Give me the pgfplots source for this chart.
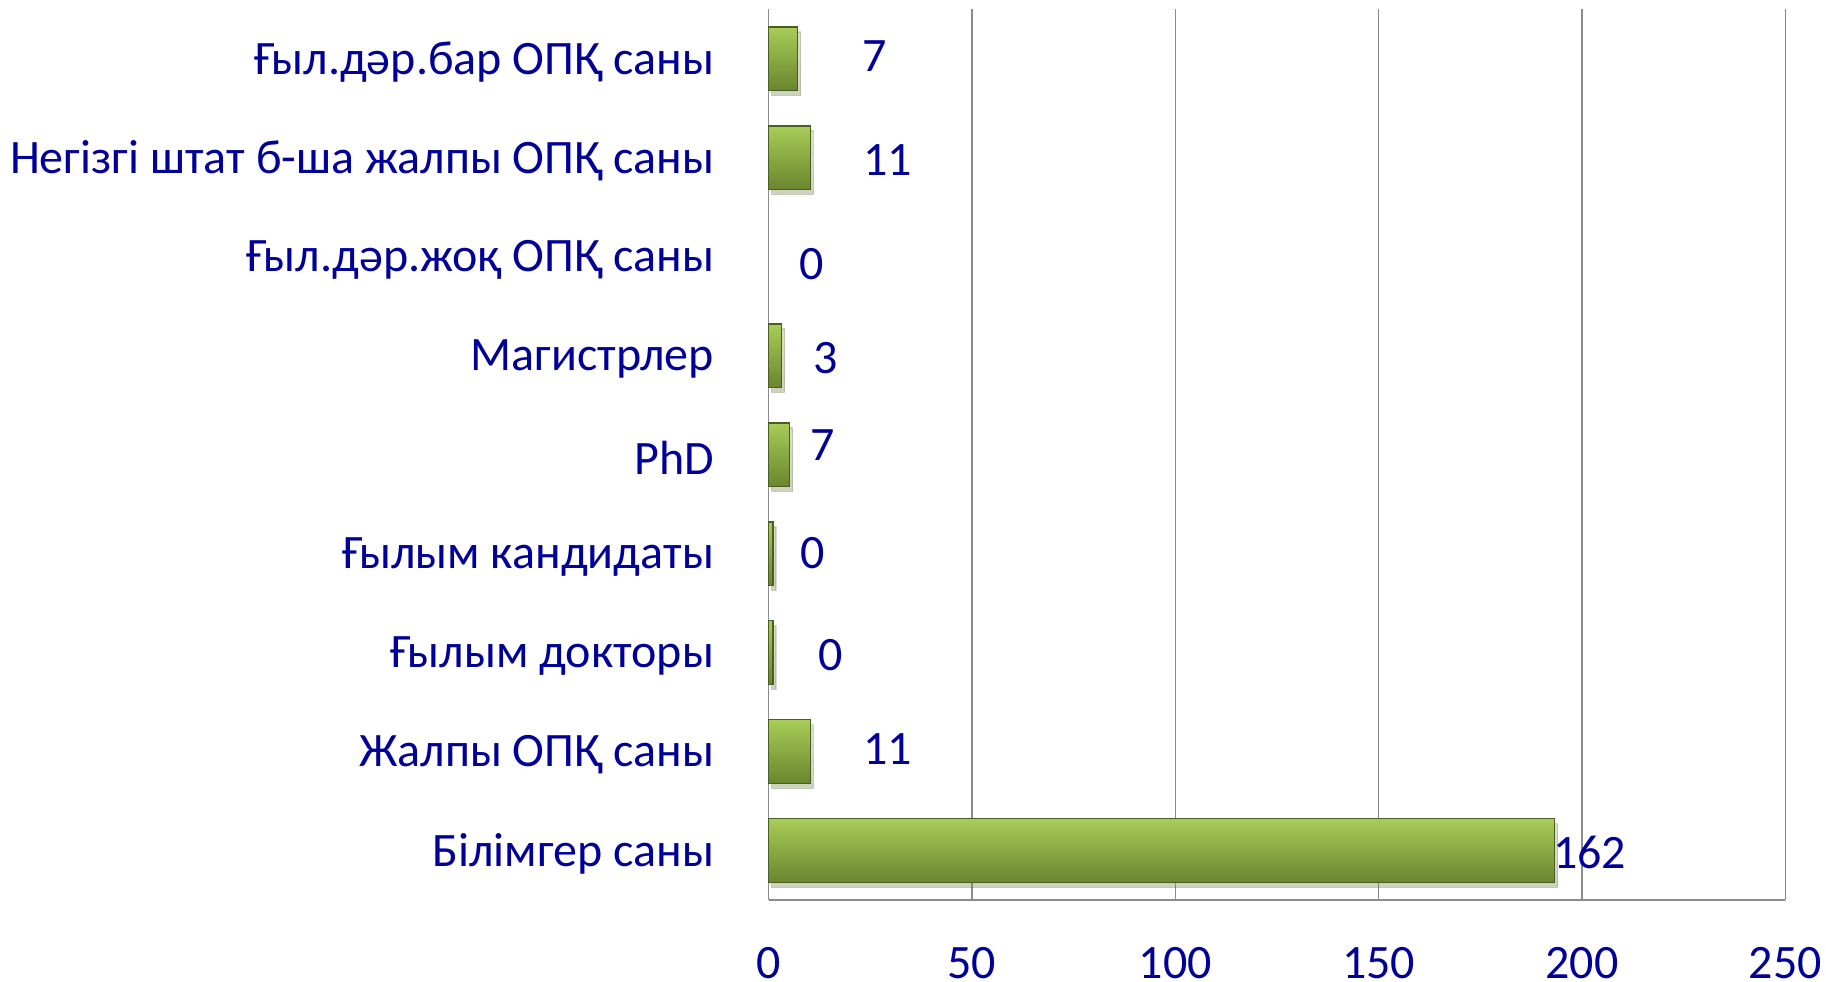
\documentclass[border=0pt]{standalone}
\usepackage{pgfplots}
\pgfplotsset{compat=1.18}
\usepackage{pgfplotstable}
\usepackage{fontspec}
\usetikzlibrary{shadows}
\setmainfont{Carlito}
\definecolor{txt}{RGB}{0,0,153}
\definecolor{barmid}{RGB}{128,160,60}
\definecolor{bartop}{RGB}{168,204,88}
\definecolor{barbot}{RGB}{106,134,46}
\definecolor{bardraw}{RGB}{74,94,34}
\definecolor{gridc}{RGB}{140,140,140}
\pgfplotsset{mybar/.style={xbar, bar width=0.64, bar shift=0pt, draw=bardraw, line width=1.2pt,
    top color=bartop, middle color=barmid, bottom color=barbot, mark=none,
    drop shadow={shadow xshift=3pt, shadow yshift=-5pt, opacity=0.2}}}
\pgfplotstableread{
y lx ly lab
0 201.9 -0.02 162
1 29.2 1.03 11
2 15.2 1.97 0
3 10.9 3.00 0
4 13.2 4.10 7
5 14.0 4.98 3
6 10.6 5.92 0
7 29.2 6.98 11
8 26.0 8.03 7
}\labtable
\begin{document}
\begin{tikzpicture}
\begin{axis}[
  scale only axis,
  width=1016.7pt, height=890.8pt,
  xmin=0, xmax=250, ymin=-0.5, ymax=8.5,
  xtick={0,50,100,150,200,250},
  ytick={0,...,8},
  yticklabels={Білімгер саны, Жалпы ОПҚ саны, Ғылым докторы, Ғылым кандидаты, PhD, Магистрлер, Ғыл.дәр.жоқ ОПҚ саны, Негізгі штат б-ша жалпы ОПҚ саны, Ғыл.дәр.бар ОПҚ саны},
  major tick length=0pt,
  axis x line*=bottom, axis y line*=left,
  axis line style={gridc, line width=1.5pt, -},
  xmajorgrids, grid style={gridc, line width=1.5pt},
  /pgf/number format/assume math mode=true,
  xticklabel style={font=\fontsize{48}{52}\selectfont, text=txt, inner sep=1pt, yshift=-46pt},
  yticklabel style={font=\fontsize{48}{52}\selectfont, text=txt, xshift=-51pt, yshift=-3.5pt},
  clip=false,
]
\addplot[mybar] coordinates {(193.3,0)};
\addplot[mybar] coordinates {(10.3,1)};
\addplot[mybar] coordinates {(1.1,2)};
\addplot[mybar] coordinates {(1.1,3)};
\addplot[mybar] coordinates {(5.2,4)};
\addplot[mybar] coordinates {(3.2,5)};
\addplot[mybar] coordinates {(7.2,8)};
\addplot[mybar] coordinates {(10.3,7)};
\addplot[only marks, mark=none, draw=none, nodes near coords, point meta=explicit symbolic,
  every node near coord/.style={anchor=center, font=\fontsize{48}{52}\selectfont, text=txt}]
  table[x=lx, y=ly, meta=lab] {\labtable};
\end{axis}
\pgfresetboundingbox
\path (current axis.south west) ++(-768.6pt,-82pt) rectangle ++(1826pt,982pt);
\end{tikzpicture}
\end{document}
